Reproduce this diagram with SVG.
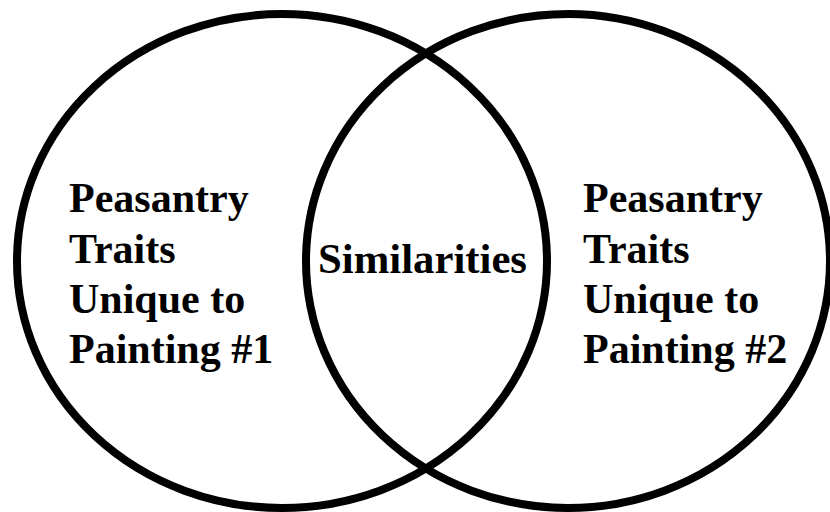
<svg xmlns="http://www.w3.org/2000/svg" width="830" height="512" viewBox="0 0 830 512">
<style>
.c{fill:none;stroke:#000;stroke-width:8}
.t{font-family:"Liberation Serif","Times New Roman",serif;font-weight:bold;font-size:42px;fill:#000}
</style>
<rect width="830" height="512" fill="#fff"/>
<g id="left-circle"><ellipse class="c" cx="282" cy="261" rx="265" ry="247"/></g>
<g id="right-circle"><ellipse class="c" cx="568" cy="261" rx="262" ry="247"/></g>
<g id="left-label"><text class="t" x="69"><tspan x="69" y="212">Peasantry</tspan><tspan x="69" y="263">Traits</tspan><tspan x="69" y="313">Unique to</tspan><tspan x="69" y="363">Painting #1</tspan></text></g>
<g id="middle-label"><text class="t" x="318" y="273" textLength="209" lengthAdjust="spacingAndGlyphs">Similarities</text></g>
<g id="right-label"><text class="t" x="583"><tspan x="583" y="212">Peasantry</tspan><tspan x="583" y="263">Traits</tspan><tspan x="583" y="313">Unique to</tspan><tspan x="583" y="363">Painting #2</tspan></text></g>
</svg>
